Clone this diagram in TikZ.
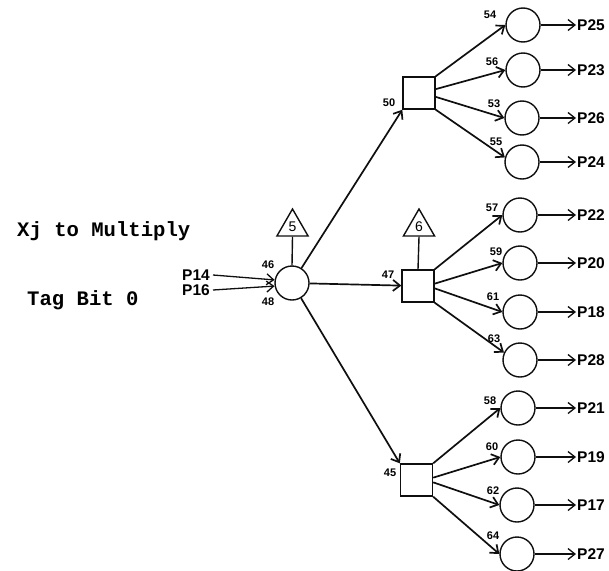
\documentclass[tikz,border=0pt]{standalone}
\usepackage{fontspec}
\setsansfont{Liberation Sans}
\newfontfamily\typefont{Liberation Mono}
\usepackage{xcolor}
\usepackage{tikz}
\usetikzlibrary{arrows.meta,positioning,calc,shapes.geometric}
\definecolor{inkblack}{RGB}{15, 15, 15}

\begin{document}
\begin{tikzpicture}[x=1pt, y=-1pt,
  gate/.style={circle, draw=inkblack, line width=1.4pt, minimum size=34pt, inner sep=0pt},
  fanbox/.style={rectangle, draw=inkblack, line width=1.4pt, minimum size=32pt, inner sep=0pt},
  tagtri/.style={regular polygon, regular polygon sides=3, draw=inkblack, line width=1.4pt, minimum size=36pt, inner sep=0pt, font=\sffamily\fontsize{14}{14}\selectfont},
  num/.style={font=\sffamily\bfseries\fontsize{11}{11}\selectfont, inner sep=0pt},
  port/.style={font=\sffamily\bfseries\fontsize{15.5}{15.5}\selectfont, inner sep=1pt, anchor=west},
  caption/.style={font=\typefont\bfseries\fontsize{20.6}{20.6}\selectfont, inner sep=0pt, anchor=base west},
  stem/.style={line width=1.4pt, color=inkblack},
  branch/.style={-{Straight Barb[length=7pt,width=11pt]}, line width=1.7pt, color=inkblack},
  feed/.style={-{Straight Barb[length=7pt,width=11pt]}, line width=1.3pt, color=inkblack}
]
\useasboundingbox (0,0) rectangle (609,570);

% Left: captions
\node[caption] (title) at (17, 236) {Xj to Multiply};
\node[caption] (tagbit) at (27, 305) {Tag Bit 0};

% Centre: merge gate with its inputs
\node[gate] (join) at (292, 283) {};
\node[tagtri] (t5) at (292.5, 227) {5};
\node[port, anchor=east, inner sep=3pt] (p14) at (213, 275) {P14};
\node[port, anchor=east, inner sep=3pt] (p16) at (213, 290) {P16};
\node[num] (l46) at (268, 265) {46};
\node[num] (l48) at (268, 302) {48};

% Middle column: three fan-out boxes
\node[fanbox] (b50) at (419, 93) {};
\node[fanbox] (b47) at (418, 286) {};
\node[fanbox] (b45) at (416.5, 480) {};
\node[tagtri] (t6) at (419, 227) {6};
\node[num] (l50) at (389, 103) {50};
\node[num] (l47) at (388, 275) {47};
\node[num] (l45) at (390, 473) {45};

% Right column: output gates (upper group)
\node[gate] (n54) at (523, 25) {};
\node[gate] (n56) at (523, 70) {};
\node[gate] (n53) at (522, 118) {};
\node[gate] (n55) at (522, 162) {};
% Right column: output gates (middle group)
\node[gate] (n57) at (520, 215) {};
\node[gate] (n59) at (520, 263) {};
\node[gate] (n61) at (520, 312) {};
\node[gate] (n63) at (520, 360) {};
% Right column: output gates (lower group)
\node[gate] (n58) at (518, 408) {};
\node[gate] (n60) at (518, 457) {};
\node[gate] (n62) at (517, 505) {};
\node[gate] (n64) at (517, 554) {};

% Gate numbers
\node[num] (l54) at (490, 15) {54};
\node[num] (l56) at (492, 62) {56};
\node[num] (l53) at (494, 104) {53};
\node[num] (l55) at (496, 142) {55};
\node[num] (l57) at (492, 208) {57};
\node[num] (l59) at (496, 252) {59};
\node[num] (l61) at (493, 297) {61};
\node[num] (l63) at (494, 339) {63};
\node[num] (l58) at (490, 401) {58};
\node[num] (l60) at (492, 447) {60};
\node[num] (l62) at (493, 491) {62};
\node[num] (l64) at (493, 536) {64};

% Output places
\node[port] (p25) at (576, 25) {P25};
\node[port] (p23) at (576, 70) {P23};
\node[port] (p26) at (576, 118) {P26};
\node[port] (p24) at (576, 162) {P24};
\node[port] (p22) at (576, 215) {P22};
\node[port] (p20) at (576, 263) {P20};
\node[port] (p18) at (576, 312) {P18};
\node[port] (p28) at (576, 360) {P28};
\node[port] (p21) at (576, 408) {P21};
\node[port] (p19) at (576, 457) {P19};
\node[port] (p17) at (576, 505) {P17};
\node[port] (p27) at (576, 554) {P27};

% Inputs and stems
\draw[feed] (p14.east) -- (join.170);
\draw[feed] (p16.east) -- (join.190);
\draw[stem] (t5.south) -- (join.north);
\draw[stem] (t6.south) -- (b47.north);

% Merge gate to boxes
\draw[branch] (join) -- (b50.south west);
\draw[branch] (join) -- (b47);
\draw[branch] (join) -- (b45.north west);

% Boxes to output gates
\draw[branch] (b50.north east) -- (n54.west);
\draw[branch] (b50.13) -- (n56.west);
\draw[branch] (b50.-13) -- (n53.west);
\draw[branch] (b50.south east) -- (n55.165);
\draw[branch] (b47.north east) -- (n57.west);
\draw[branch] (b47.8) -- (n59.west);
\draw[branch] (b47.-8) -- (n61.west);
\draw[branch] (b47.south east) -- (n63.155);
\draw[branch] (b45.north east) -- (n58.west);
\draw[branch] (b45.8) -- (n60.west);
\draw[branch] (b45.-8) -- (n62.west);
\draw[branch] (b45.south east) -- (n64.west);

% Output gates to places
\draw[feed] (n54) -- (p25);
\draw[feed] (n56) -- (p23);
\draw[feed] (n53) -- (p26);
\draw[feed] (n55) -- (p24);
\draw[feed] (n57) -- (p22);
\draw[feed] (n59) -- (p20);
\draw[feed] (n61) -- (p18);
\draw[feed] (n63) -- (p28);
\draw[feed] (n58) -- (p21);
\draw[feed] (n60) -- (p19);
\draw[feed] (n62) -- (p17);
\draw[feed] (n64) -- (p27);

\end{tikzpicture}
\end{document}
